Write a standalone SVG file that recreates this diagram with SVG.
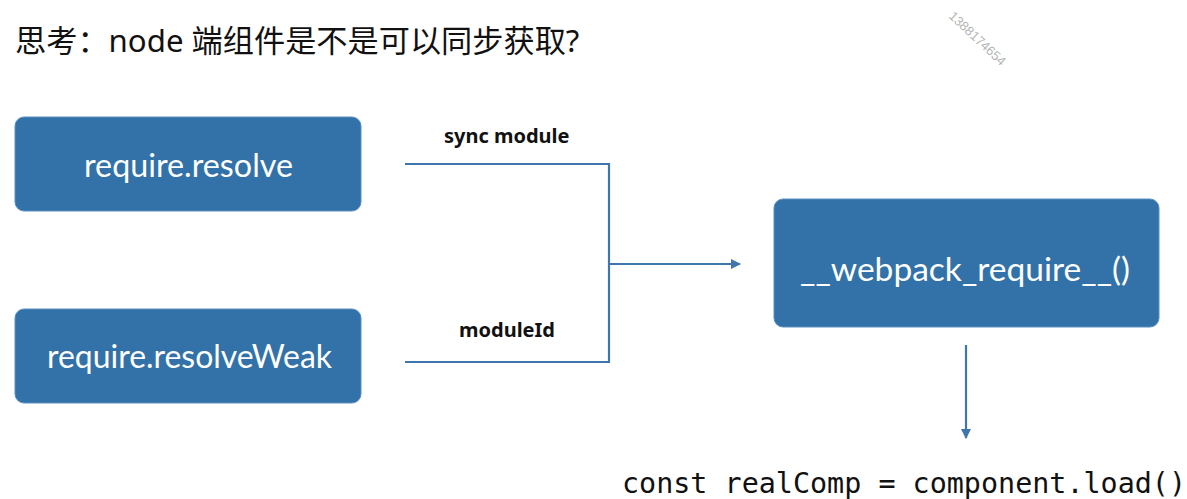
<svg xmlns="http://www.w3.org/2000/svg" width="1187" height="499" viewBox="0 0 1187 499">
<style>
.box{fill:#3372a8;stroke:#5a8fc2;stroke-width:1}
.bl{font-family:Lato,"Noto Sans",sans-serif;font-size:32px;fill:#ffffff}
.lbl{font-family:"Noto Sans",Lato,sans-serif;font-size:20px;font-weight:bold;fill:#111}
.ln{fill:none;stroke:#3f77ad;stroke-width:2.2}
</style>
<defs>
<marker id="ah" markerWidth="10" markerHeight="10" refX="9" refY="5" orient="auto" markerUnits="userSpaceOnUse">
<path d="M0,0 L10,5 L0,10 Z" fill="#3f77ad"/>
</marker>
</defs>
<rect width="1187" height="499" fill="#ffffff"/>
<text x="15" y="52" font-family="'Noto Sans','Noto Sans CJK SC',sans-serif" font-size="31.2" fill="#111">思考：node 端组件是不是可以同步获取?</text>
<text x="0" y="0" transform="translate(948,17) rotate(43)" font-family="'Liberation Sans',sans-serif" font-size="13" fill="#b5b5b5">1388174654</text>
<g id="n1"><rect class="box" x="15" y="117" width="346" height="94" rx="9"/><text class="bl" x="84" y="177" textLength="209" lengthAdjust="spacingAndGlyphs">require.resolve</text></g>
<g id="n2"><rect class="box" x="15" y="309" width="346" height="94" rx="9"/><text class="bl" x="47" y="368" textLength="285" lengthAdjust="spacingAndGlyphs">require.resolveWeak</text></g>
<g id="n3"><rect class="box" x="774" y="199" width="385" height="128" rx="9"/><text class="bl" x="800" y="281" textLength="330" lengthAdjust="spacingAndGlyphs">__webpack_require__()</text></g>
<g id="connectors">
<path class="ln" d="M405,164 H609 V362 H405"/>
<path class="ln" d="M609,264 H740" marker-end="url(#ah)"/>
<path class="ln" d="M966,345 V438" marker-end="url(#ah)"/>
<text class="lbl" x="444" y="143">sync module</text>
<text class="lbl" x="459" y="337">moduleId</text>
</g>
<text x="622" y="493" font-family="'DejaVu Sans Mono',monospace" font-size="28.4" fill="#111">const realComp = component.load()</text>
</svg>
